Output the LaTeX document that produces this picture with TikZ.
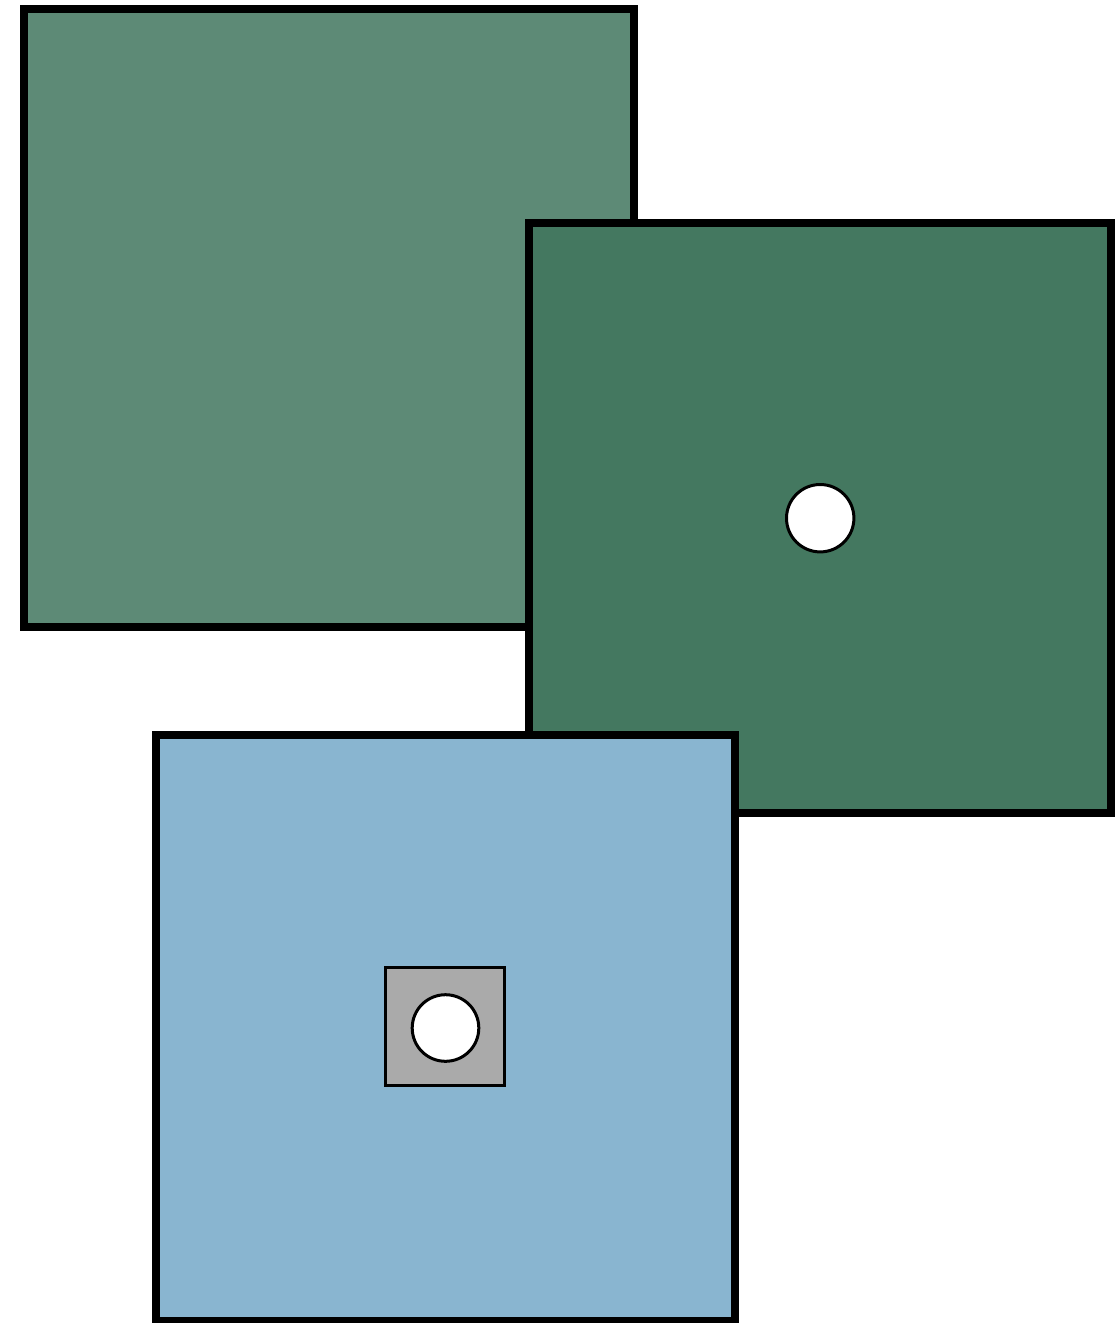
\documentclass[tikz,border=0pt]{standalone}
\definecolor{gA}{HTML}{5D8A76}
\definecolor{gB}{HTML}{447860}
\definecolor{bC}{HTML}{89B5D0}
\definecolor{grayS}{HTML}{AAAAAA}
\begin{document}
\begin{tikzpicture}[x=1pt,y=-1pt,
  bigsq/.style={draw=black,line width=8pt},
  hole/.style={draw=black,fill=white,line width=3pt},
  smallsq/.style={draw=black,fill=grayS,line width=3pt}]
\useasboundingbox (0,0) rectangle (1117,1323);
\draw[bigsq,fill=gA] (24,9) rectangle (634.3,626.5);
\draw[bigsq,fill=gB] (529,223.3) rectangle (1111,813);
\draw[bigsq,fill=bC] (156,735) rectangle (735.3,1320.5);
\draw[hole] (820.2,518.2) circle (33.7);
\draw[smallsq] (385.5,967.5) rectangle (504.5,1085.5);
\draw[hole] (445.5,1028) circle (33.3);
\end{tikzpicture}
\end{document}
